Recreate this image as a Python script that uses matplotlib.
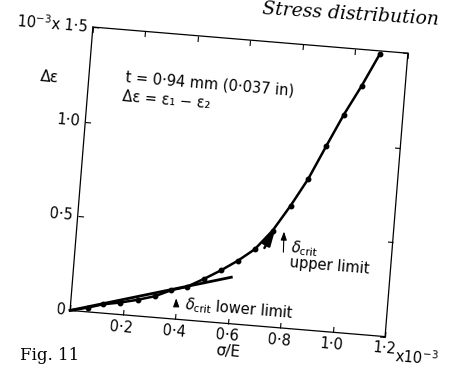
"""Delta-epsilon against sigma/E for the 0.94 mm sheet (scanned book figure, slightly skewed)."""

import matplotlib
matplotlib.use("Agg")
import matplotlib.pyplot as plt
from matplotlib.transforms import Affine2D
from mpl_toolkits.axisartist import floating_axes
from mpl_toolkits.axisartist.grid_finder import FixedLocator, DictFormatter

# measured points, units of 1e-3
sigma_e = [0.067, 0.124, 0.186, 0.254, 0.317, 0.377, 0.434, 0.498, 0.558,
           0.620, 0.680, 0.742, 0.803, 0.861, 0.919, 0.976, 1.035, 1.095]
d_eps = [0.023, 0.047, 0.063, 0.086, 0.112, 0.151, 0.175, 0.225, 0.276,
         0.335, 0.402, 0.508, 0.648, 0.795, 0.975, 1.148, 1.308, 1.486]

# curve starts at the origin
curve_x = [0.0] + sigma_e
curve_y = [0.0] + d_eps

# straight-line fits
lower_x = [0.0, 0.60]
lower_y = [0.0, 0.245]
upper_arrow = ((0.712, 0.40), (0.757, 0.535))

x_ticks = [0.0, 0.2, 0.4, 0.6, 0.8, 1.0, 1.2]
x_labels = ["", "0·2", "0·4", "0·6", "0·8", "1·0", "1·2"]
y_ticks = [0.0, 0.5, 1.0, 1.5]
y_labels = ["0", "0·5", "1·0", "10$^{-3}$x 1·5"]

# pixel size of one data unit along each axis; the scan is rotated ~4.7 deg
SKEW = Affine2D.from_values(267.75, -22.25, 15.5, 192.7, 0, 0)

fig = plt.figure(figsize=(4.5, 3.66), dpi=100)
fig.patch.set_facecolor("white")

gh = floating_axes.GridHelperCurveLinear(
    SKEW, extremes=(0, 1.2, 0, 1.5),
    grid_locator1=FixedLocator(x_ticks),
    grid_locator2=FixedLocator(y_ticks),
    tick_formatter1=DictFormatter(dict(zip(x_ticks, x_labels))),
    tick_formatter2=DictFormatter(dict(zip(y_ticks, y_labels))),
)
ax = fig.add_axes([66.7 / 450, 26.3 / 366, 344.55 / 450, 315.75 / 366],
                  axes_class=floating_axes.FloatingAxes, grid_helper=gh)
for side in ["left", "right", "top", "bottom"]:
    ax.axis[side].line.set_linewidth(0.9)
    ax.axis[side].major_ticks.set_ticksize(4)
    ax.axis[side].major_ticks.set_tick_out(False)
    ax.axis[side].major_ticklabels.set_fontsize(10.5)
ax.axis["top"].major_ticklabels.set_visible(False)
ax.axis["right"].major_ticklabels.set_visible(False)

aux = ax.get_aux_axes(SKEW)

aux.plot(curve_x, curve_y, color="black", lw=1.8, zorder=3)
aux.plot(sigma_e, d_eps, "o", color="black", ms=3.2, zorder=4)
aux.plot(lower_x, lower_y, color="black", lw=2.0, zorder=3)
aux.annotate("", xy=upper_arrow[1], xytext=upper_arrow[0],
             arrowprops=dict(arrowstyle="-|>,head_length=1.0,head_width=0.25",
                             color="black", lw=1.8))

rot = -4.7
# critical stress markers
aux.annotate("", xy=(0.397, 0.125), xytext=(0.400, 0.072),
             arrowprops=dict(arrowstyle="-|>,head_length=0.5,head_width=0.18",
                             color="black", lw=0.8))
aux.text(0.43, 0.055, r"$\delta_{\rm crit}$ lower limit", fontsize=10.5,
         rotation=rot, ha="left", va="center")
aux.annotate("", xy=(0.785, 0.523), xytext=(0.790, 0.385),
             arrowprops=dict(arrowstyle="-|>,head_length=0.5,head_width=0.18",
                             color="black", lw=0.8))
aux.text(0.813, 0.42, r"$\delta_{\rm crit}$", fontsize=10.5, rotation=rot,
         ha="left", va="center")
aux.text(0.815, 0.33, "upper limit", fontsize=10.5, rotation=rot,
         ha="left", va="center")

aux.text(0.140, 1.217, "t = 0·94 mm (0·037 in)", fontsize=10.5, rotation=rot,
         ha="left", va="center")
aux.text(0.133, 1.13, "Δε = ε₁ − ε₂", fontsize=10.5, rotation=rot,
         ha="left", va="center")
aux.text(-0.15, 1.218, "Δε", fontsize=11, rotation=rot,
         ha="center", va="center")
aux.text(0.611, -0.147, "σ/E", fontsize=11, rotation=rot,
         ha="center", va="center")
aux.text(1.235, -0.05, "x10$^{-3}$", fontsize=10.5, rotation=rot,
         ha="left", va="top")

# bits of the book page caught in the scan
fig.text(262 / 450, 1 - 14 / 366, "Stress distribution", fontsize=13.5,
         family="DejaVu Serif", style="italic", rotation=-3.5,
         ha="left", va="center")
fig.text(20 / 450, 2 / 366, "Fig. 11", fontsize=12,
         family="DejaVu Serif", ha="left", va="bottom")

fig.savefig("out.png", dpi=100, facecolor="white")
